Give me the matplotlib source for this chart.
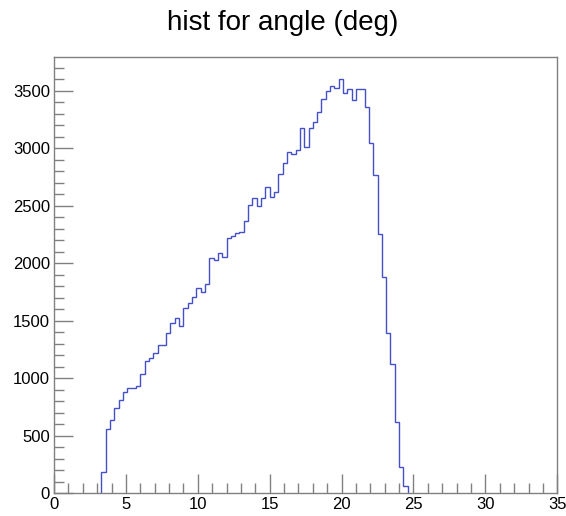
import numpy as np
import matplotlib.pyplot as plt
from matplotlib.ticker import MultipleLocator

plt.rcParams['font.family'] = ['Liberation Sans', 'DejaVu Sans']

# histogram binning: 0.3 deg bins starting at 3.3 deg
bin_lo = 3.3
bin_width = 0.3

counts = [
    188, 559, 637, 740, 808, 883, 913, 913, 937, 1036,
    1150, 1174, 1218, 1286, 1286, 1396, 1483, 1521, 1454, 1608,
    1657, 1705, 1785, 1750, 1820, 2050, 2030, 2090, 2055, 2222,
    2237, 2266, 2274, 2367, 2506, 2570, 2500, 2570, 2666, 2579,
    2622, 2776, 2869, 2970, 2950, 2985, 3173, 3013, 3173, 3231,
    3318, 3425, 3498, 3541, 3521, 3602, 3483, 3512, 3419, 3512,
    3512, 3361, 3048, 2767, 2252, 1878, 1391, 1124, 617, 231,
    66,
]

edges = bin_lo + bin_width * np.arange(len(counts) + 1)

fig = plt.figure(figsize=(5.66, 5.16), dpi=100)
ax = fig.add_axes([0.0954, 0.044, 0.8892, 0.845])

ax.stairs(counts, edges, color='#4350c8', linewidth=1.0)

ax.set_xlim(0, 35)
ax.set_ylim(0, 3792)

ax.xaxis.set_major_locator(MultipleLocator(5))
ax.xaxis.set_minor_locator(MultipleLocator(1))
ax.yaxis.set_major_locator(MultipleLocator(500))
ax.yaxis.set_minor_locator(MultipleLocator(100))

axcol = '#808080'
for sp in ax.spines.values():
    sp.set_color(axcol)
    sp.set_linewidth(1.0)

ax.tick_params(which='both', direction='in', color=axcol, width=1.0,
               top=False, right=False, labelsize=12, pad=3)
ax.tick_params(which='major', length=14)
ax.tick_params(which='minor', length=7)

fig.text(0.5, 0.955, 'hist for angle (deg)', ha='center', va='center',
         fontsize=20)

fig.savefig('out.png', dpi=100)
